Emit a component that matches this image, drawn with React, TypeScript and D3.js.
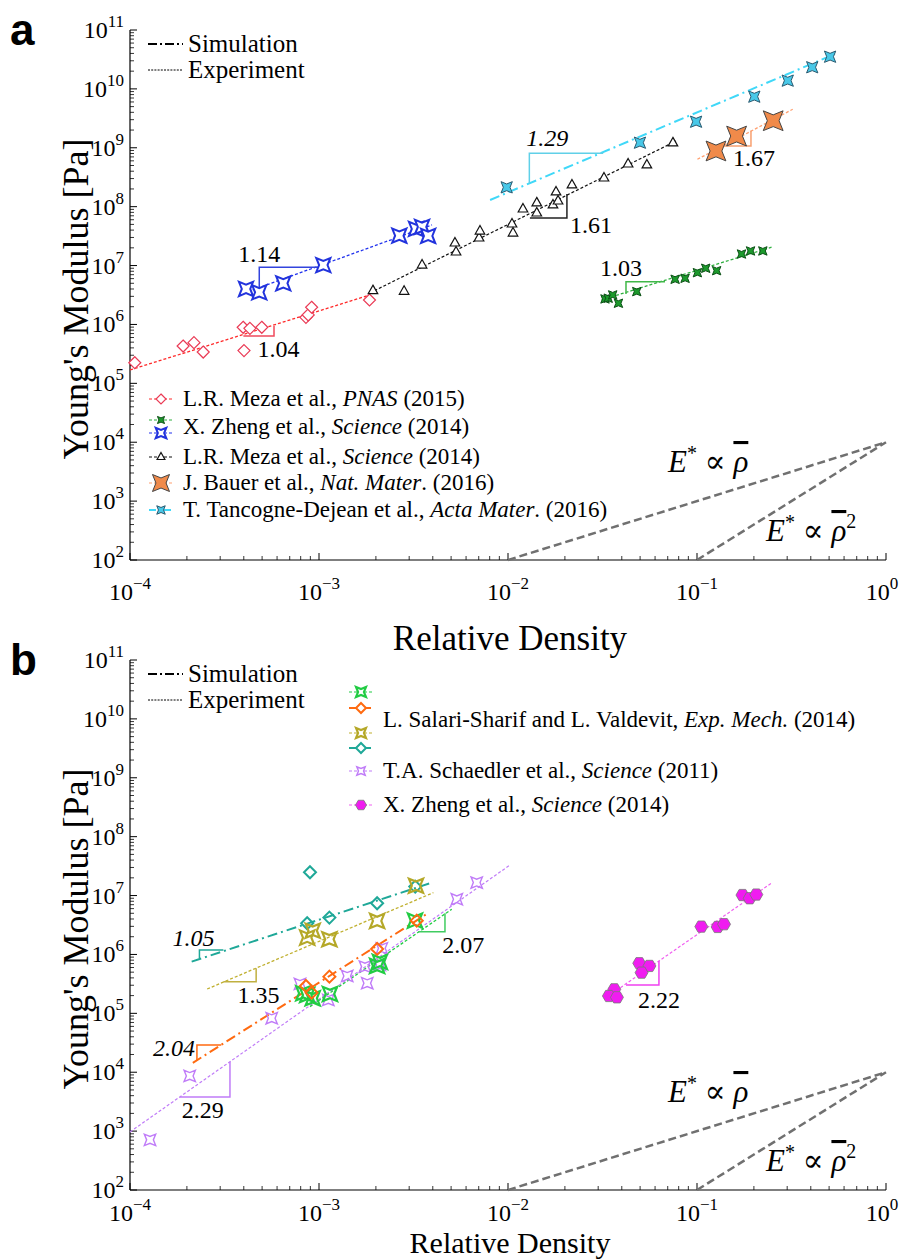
import React from 'react';
import * as d3 from 'd3';

type Pt = [number, number];

// ---------- Panel a data ----------
const mezaPNAS: Pt[] = [[1.06e-4,2.24e5],[1.91e-4,4.3e5],[2.18e-4,4.9e5],[2.44e-4,3.4e5],[3.97e-4,8.95e5],[4.31e-4,8.6e5],[4.98e-4,8.95e5],[4.01e-4,3.6e5],[8.53e-4,1.32e6],[8.77e-4,1.45e6],[9.14e-4,1.96e6],[1.85e-3,2.6e6]];
const mezaPNASFit: Pt[] = [[1e-4,1.69e5],[1.79e-3,3.05e6]];
const zhengGreen: Pt[] = [[3.26e-2,2.71e6],[3.39e-2,2.79e6],[3.58e-2,3.17e6],[3.84e-2,2.29e6],[4.8e-2,3.61e6],[7.66e-2,5.85e6],[8.65e-2,6.08e6],[1.005e-1,7.57e6],[1.112e-1,9.0e6],[1.27e-1,8.19e6],[1.72e-1,1.57e7],[1.92e-1,1.77e7],[2.23e-1,1.77e7]];
const zhengGreenFit: Pt[] = [[3.13e-2,2.61e6],[2.48e-1,2.05e7]];
const zhengBlue: Pt[] = [[4.11e-4,4.0e6],[4.83e-4,3.52e6],[6.47e-4,5.0e6],[1.054e-3,1.02e7],[2.66e-3,3.22e7],[3.26e-3,4.18e7],[3.51e-3,4.52e7],[3.78e-3,3.18e7]];
const zhengBlueFit: Pt[] = [[4.21e-4,3.6e6],[3.96e-3,4.89e7]];
const mezaSci: Pt[] = [[1.93e-3,3.75e6],[2.82e-3,3.66e6],[3.51e-3,1.02e7],[5.24e-3,2.42e7],[5.31e-3,1.7e7],[7.03e-3,2.94e7],[7.11e-3,3.86e7],[1.05e-2,5.08e7],[1.063e-2,3.57e7],[1.2e-2,9.14e7],[1.42e-2,1.16e8],[1.42e-2,7.82e7],[1.73e-2,1.07e8],[1.795e-2,1.78e8],[1.84e-2,1.25e8],[2.18e-2,2.34e8],[3.22e-2,3.07e8],[4.32e-2,5.31e8],[5.43e-2,5.11e8],[7.46e-2,1.21e9]];
const mezaSciFit: Pt[] = [[1.86e-3,3.43e6],[7.74e-2,1.3e9]];
const bauer: Pt[] = [[0.126,8.83e8],[0.162,1.58e9],[0.253,2.88e9]];
const bauerFit: Pt[] = [[0.1005,6.38e8],[0.321,4.51e9]];
const tancogne: Pt[] = [[9.84e-3,2.13e8],[4.99e-2,1.22e9],[9.89e-2,2.77e9],[0.201,7.38e9],[0.302,1.38e10],[0.407,2.33e10],[0.506,3.52e10]];
const tancogneFit: Pt[] = [[8.04e-3,1.3e8],[0.537,3.91e10]];

const tri104: Pt[] = [[3.98e-4,6.38e5],[5.78e-4,6.38e5],[5.78e-4,9.44e5]];
const tri114: Pt[] = [[4.83e-4,3.56e6],[4.83e-4,9.35e6],[1.054e-3,9.35e6]];
const tri161: Pt[] = [[1.306e-2,6.43e7],[2.05e-2,6.43e7],[2.05e-2,1.64e8]];
const tri103: Pt[] = [[4.21e-2,3.3e6],[4.21e-2,5.33e6],[6.77e-2,5.33e6]];
const tri167: Pt[] = [[0.1373,1.07e9],[0.193,1.07e9],[0.193,1.95e9]];
const tri129: Pt[] = [[1.297e-2,2.49e8],[1.297e-2,8.07e8],[3.19e-2,8.07e8]];

// ---------- Panel b data ----------
const salariTeal: Pt[] = [[8.96e-4,2.49e7],[8.66e-4,3.39e6],[1.135e-3,4.22e6],[2.03e-3,7.4e6],[3.23e-3,1.42e7]];
const salariTealFit: Pt[] = [[2.12e-4,7.55e5],[4.0e-3,1.68e7]];
const salariOlive: Pt[] = [[8.66e-4,1.93e6],[9.26e-4,2.53e6],[1.135e-3,1.81e6],[2.03e-3,3.71e6],[3.26e-3,1.47e7]];
const salariOliveFit: Pt[] = [[2.56e-4,2.59e5],[4.03e-3,1.12e7]];
const salariOrange: Pt[] = [[8.53e-4,2.92e5],[9.14e-4,2.24e5],[1.135e-3,4.2e5],[2.03e-3,1.24e6],[3.29e-3,3.75e6]];
const salariOrangeFit: Pt[] = [[2.15e-4,1.44e4],[3.72e-3,4.87e6]];
const salariGreen: Pt[] = [[8.26e-4,2.19e5],[8.66e-4,2.05e5],[9.26e-4,1.8e5],[1.143e-3,2.13e5],[2.03e-3,6.38e5],[2.1e-3,7.46e5],[3.22e-3,3.75e6]];
const salariGreenFit: Pt[] = [[8.96e-4,1.3e5],[5.04e-3,5.85e6]];
const schaedler: Pt[] = [[1.276e-4,710],[2.07e-4,8650],[5.62e-4,8.26e4],[7.93e-4,3.16e5],[1.12e-3,1.69e5],[1.41e-3,4.32e5],[1.75e-3,6.21e5],[1.8e-3,3.25e5],[2.1e-3,6.64e5],[2.15e-3,1.27e6],[5.36e-3,8.65e6],[6.83e-3,1.66e7]];
const schaedlerFit: Pt[] = [[1e-4,968],[1.026e-2,3.31e7]];
const zhengB: Pt[] = [[3.65e-2,2.56e5],[3.42e-2,1.97e5],[3.77e-2,1.87e5],[4.95e-2,7.09e5],[5.6e-2,6.38e5],[5.09e-2,4.91e5],[0.1054,2.97e6],[0.1286,2.93e6],[0.139,3.26e6],[0.174,1.02e7],[0.19,9.0e6],[0.206,1.04e7]];
const zhengBFit: Pt[] = [[3.22e-2,1.75e5],[0.25,1.66e7]];

const tri105: Pt[] = [[2.33e-4,8.61e5],[2.33e-4,1.19e6],[3.12e-4,1.19e6]];
const tri135: Pt[] = [[3.12e-4,3.45e5],[4.65e-4,3.45e5],[4.65e-4,5.83e5]];
const tri204: Pt[] = [[2.26e-4,1.58e4],[2.26e-4,2.9e4],[3.04e-4,2.9e4]];
const tri207: Pt[] = [[3.35e-3,2.44e6],[4.64e-3,2.44e6],[4.64e-3,5.01e6]];
const tri229: Pt[] = [[1.835e-4,3810],[3.38e-4,3810],[3.38e-4,1.51e4]];
const tri222: Pt[] = [[4.21e-2,3.03e5],[6.29e-2,3.03e5],[6.29e-2,7.76e5]];

// reference scaling lines
const refLinear: Pt[] = [[1e-2,1e2],[1,1e4]];
const refQuad: Pt[] = [[1e-1,1e2],[1,1e4]];

const xTickExps = [-4,-3,-2,-1,0];
const yTickExps = [2,3,4,5,6,7,8,9,10,11];

// ---------- markers ----------
const star = (r: number, inner = 0.42) => {
  const p: string[] = [];
  for (let i = 0; i < 8; i++) {
    const a = Math.PI / 4 + i * Math.PI / 4;
    const rr = i % 2 === 0 ? r : r * inner;
    p.push(`${(rr * Math.cos(a)).toFixed(2)},${(rr * Math.sin(a)).toFixed(2)}`);
  }
  return 'M' + p.join('L') + 'Z';
};
const diamond = (r: number) => `M0,${-r}L${r},0L0,${r}L${-r},0Z`;
const triangle = (r: number) => `M0,${-r}L${r * 0.87},${r * 0.55}L${-r * 0.87},${r * 0.55}Z`;
const hexagon = (r: number) => {
  const p: string[] = [];
  for (let i = 0; i < 6; i++) { const a = i * Math.PI / 3; p.push(`${(r * Math.cos(a)).toFixed(2)},${(r * Math.sin(a)).toFixed(2)}`); }
  return 'M' + p.join('L') + 'Z';
};

const EXP = '3,2';
const SIM = '10,4,2,4';
const FONT = '"Liberation Serif", "DejaVu Serif", serif';

interface Series { data: Pt[]; fit: Pt[]; shape: (r: number) => string; r: number; fill: string; stroke: string; sw: number; line: string; lw: number; dash: string; }
interface Tri { pts: Pt[]; label: string; italic?: boolean; color: string; dx: number; dy: number; }

const seriesA: Series[] = [
  { data: mezaPNAS, fit: mezaPNASFit, shape: diamond, r: 6, fill: 'white', stroke: '#ea3a55', sw: 1.2, line: '#ff2a2a', lw: 1.3, dash: EXP },
  { data: zhengGreen, fit: zhengGreenFit, shape: star, r: 6, fill: '#1c9a2c', stroke: '#0c5016', sw: 1, line: '#30b040', lw: 1.3, dash: EXP },
  { data: zhengBlue, fit: zhengBlueFit, shape: star, r: 10, fill: 'white', stroke: '#2233dd', sw: 2, line: '#2233ee', lw: 1.3, dash: EXP },
  { data: mezaSci, fit: mezaSciFit, shape: triangle, r: 5.5, fill: 'white', stroke: '#111', sw: 1.2, line: '#111', lw: 1.2, dash: EXP },
  { data: bauer, fit: bauerFit, shape: star, r: 14, fill: '#f08a4a', stroke: '#444', sw: 1, line: '#ffa070', lw: 1.3, dash: EXP },
  { data: tancogne, fit: tancogneFit, shape: star, r: 8, fill: '#48c8e8', stroke: '#2a5a70', sw: 1, line: '#40d8f8', lw: 2, dash: SIM },
];
const trisA: Tri[] = [
  { pts: tri104, label: '1.04', color: '#f04a5c', dx: 14, dy: 21 },
  { pts: tri114, label: '1.14', color: '#3344dd', dx: -21, dy: -30 },
  { pts: tri161, label: '1.61', color: '#222', dx: 40, dy: 15 },
  { pts: tri103, label: '1.03', color: '#40b848', dx: -26, dy: -18 },
  { pts: tri167, label: '1.67', color: '#f8a070', dx: 10, dy: 20 },
  { pts: tri129, label: '1.29', italic: true, color: '#60d0e8', dx: -3, dy: -37 },
];

const seriesB: Series[] = [
  { data: salariTeal, fit: salariTealFit, shape: diamond, r: 6, fill: 'none', stroke: '#1fa898', sw: 2, line: '#1fa898', lw: 2, dash: SIM },
  { data: salariOlive, fit: salariOliveFit, shape: star, r: 10, fill: 'none', stroke: '#b5a828', sw: 2.2, line: '#c0b030', lw: 1.3, dash: EXP },
  { data: schaedler, fit: schaedlerFit, shape: star, r: 8, fill: 'none', stroke: '#c07cf8', sw: 1.4, line: '#c07cf8', lw: 1.2, dash: EXP },
  { data: salariGreen, fit: salariGreenFit, shape: star, r: 10, fill: 'none', stroke: '#22cc44', sw: 2.2, line: '#22cc44', lw: 1.3, dash: EXP },
  { data: salariOrange, fit: salariOrangeFit, shape: diamond, r: 6, fill: 'none', stroke: '#ff6a10', sw: 2, line: '#ff6a10', lw: 2, dash: SIM },
  { data: zhengB, fit: zhengBFit, shape: hexagon, r: 6.5, fill: '#f01cf0', stroke: '#777', sw: 0.8, line: '#f060f0', lw: 1.2, dash: EXP },
];
const trisB: Tri[] = [
  { pts: tri105, label: '1.05', italic: true, color: '#1fa898', dx: -27, dy: -12 },
  { pts: tri135, label: '1.35', color: '#c0b040', dx: 14, dy: 21 },
  { pts: tri204, label: '2.04', italic: true, color: '#ff6a10', dx: -44, dy: -5 },
  { pts: tri207, label: '2.07', color: '#40cc60', dx: 24, dy: 21 },
  { pts: tri229, label: '2.29', color: '#c07cf8', dx: 2, dy: 21 },
  { pts: tri222, label: '2.22', color: '#f040f0', dx: 12, dy: 23 },
];

type TextPart = string | { i: string };
interface LegendRow { y: number; text: TextPart[]; marks: { dy: number; s: Series; r: number }[] }

const legendA: LegendRow[] = [
  { y: 399, text: ['L.R. Meza et al., ', { i: 'PNAS' }, ' (2015)'], marks: [{ dy: 0, s: seriesA[0], r: 5 }] },
  { y: 427, text: ['X. Zheng et al., ', { i: 'Science' }, ' (2014)'], marks: [{ dy: -7, s: seriesA[1], r: 5 }, { dy: 6, s: seriesA[2], r: 7.5 }] },
  { y: 457, text: ['L.R. Meza et al., ', { i: 'Science' }, ' (2014)'], marks: [{ dy: 0, s: seriesA[3], r: 4.5 }] },
  { y: 483, text: ['J. Bauer et al., ', { i: 'Nat. Mater' }, '. (2016)'], marks: [{ dy: 0, s: seriesA[4], r: 12 }] },
  { y: 510, text: ['T. Tancogne-Dejean et al., ', { i: 'Acta Mater' }, '. (2016)'], marks: [{ dy: 0, s: seriesA[5], r: 6 }] },
];
const legendB: LegendRow[] = [
  { y: 720, text: ['L. Salari-Sharif and L. Valdevit, ', { i: 'Exp. Mech.' }, ' (2014)'], marks: [
    { dy: -28, s: seriesB[3], r: 7 }, { dy: -12, s: seriesB[4], r: 5 }, { dy: 13, s: seriesB[1], r: 7 }, { dy: 28, s: seriesB[0], r: 5 }] },
  { y: 771, text: ['T.A. Schaedler et al., ', { i: 'Science' }, ' (2011)'], marks: [{ dy: 0, s: seriesB[2], r: 6 }] },
  { y: 805, text: ['X. Zheng et al., ', { i: 'Science' }, ' (2014)'], marks: [{ dy: 0, s: seriesB[5], r: 5.5 }] },
];

const X0 = 130, X1 = 886;

interface PanelProps { top: number; bottom: number; series: Series[]; tris: Tri[]; legend: LegendRow[]; legendX: number; letter: string; titleY: number; titleSize: number; tickDy: number; }

const Panel: React.FC<PanelProps> = ({ top, bottom, series, tris, legend, legendX, letter, titleY, titleSize, tickDy }) => {
  const x = d3.scaleLog().domain([1e-4, 1]).range([X0, X1]);
  const y = d3.scaleLog().domain([1e2, 1e11]).range([bottom, top]);
  const line = d3.line<Pt>().x(d => x(d[0])).y(d => y(d[1]));
  const minorX: number[] = [];
  xTickExps.slice(0, -1).forEach(e => { for (let k = 2; k < 10; k++) minorX.push(k * Math.pow(10, e)); });
  const minorY: number[] = [];
  yTickExps.slice(0, -1).forEach(e => { for (let k = 2; k < 10; k++) minorY.push(k * Math.pow(10, e)); });
  const off = top - 30;
  const renderText = (parts: TextPart[]) => parts.map((p, i) => typeof p === 'string'
    ? <tspan key={i}>{p}</tspan> : <tspan key={i} fontStyle="italic">{p.i}</tspan>);
  return (
    <g fontFamily={FONT}>
      <text x={10} y={top + 15} fontFamily='"Liberation Sans", Arial, sans-serif' fontWeight="bold" fontSize={44}>{letter}</text>
      {/* axes */}
      <line x1={X0} x2={X0} y1={top} y2={bottom} stroke="#000" strokeWidth={1.2} />
      <line x1={X0} x2={X1} y1={bottom} y2={bottom} stroke="#000" strokeWidth={1.2} />
      {yTickExps.map(e => <line key={'ym' + e} x1={X0} x2={X0 + 7} y1={y(Math.pow(10, e))} y2={y(Math.pow(10, e))} stroke="#000" strokeWidth={1} />)}
      {minorY.map((v, i) => <line key={'yn' + i} x1={X0} x2={X0 + 4} y1={y(v)} y2={y(v)} stroke="#000" strokeWidth={0.8} />)}
      {xTickExps.map(e => <line key={'xm' + e} x1={x(Math.pow(10, e))} x2={x(Math.pow(10, e))} y1={bottom} y2={bottom - 7} stroke="#000" strokeWidth={1} />)}
      {minorX.map((v, i) => <line key={'xn' + i} x1={x(v)} x2={x(v)} y1={bottom} y2={bottom - 4} stroke="#000" strokeWidth={0.8} />)}
      {yTickExps.map(e => (
        <text key={'yl' + e} x={124} y={y(Math.pow(10, e)) + 8} textAnchor="end" fontSize={24}>
          <tspan>10</tspan><tspan dy={-11} fontSize={17}>{String(e)}</tspan>
        </text>))}
      {xTickExps.map(e => (
        <text key={'xl' + e} x={x(Math.pow(10, e)) - (e === 0 ? 4 : 0)} y={bottom + tickDy} textAnchor="middle" fontSize={24}>
          <tspan>10</tspan><tspan dy={-11} fontSize={17}>{e < 0 ? '\u2212' + Math.abs(e) : String(e)}</tspan>
        </text>))}
      <text x={(X0 + X1) / 2 + 2} y={titleY} textAnchor="middle" fontSize={titleSize}>Relative Density</text>
      <text transform={`translate(88,${(top + bottom) / 2 + 4}) rotate(-90)`} textAnchor="middle" fontSize={36}>Young's Modulus [Pa]</text>

      {/* sim / exp legend */}
      <line x1={148} x2={183} y1={44 + off} y2={44 + off} stroke="#000" strokeWidth={1.8} strokeDasharray="9,3,2,3" />
      <text x={188} y={52 + off} fontSize={25}>Simulation</text>
      <line x1={148} x2={183} y1={70 + off} y2={70 + off} stroke="#000" strokeWidth={1} strokeDasharray="2,1.2" />
      <text x={188} y={78 + off} fontSize={25}>Experiment</text>

      {/* reference lines */}
      <path d={line(refLinear) || ''} stroke="#707070" strokeWidth={2.5} strokeDasharray="8,4" fill="none" />
      <path d={line(refQuad) || ''} stroke="#707070" strokeWidth={2.5} strokeDasharray="8,4" fill="none" />
      <text x={668} y={472 + off} fontSize={31}>
        <tspan fontStyle="italic">E</tspan><tspan dy={-12} fontSize={20}>*</tspan><tspan dy={12}>{' \u221D '}</tspan><tspan fontStyle="italic" style={{ textDecoration: 'overline' }}>{'\u03C1'}</tspan>
      </text>
      <text x={766} y={541 + off} fontSize={31}>
        <tspan fontStyle="italic">E</tspan><tspan dy={-12} fontSize={20}>*</tspan><tspan dy={12}>{' \u221D '}</tspan><tspan fontStyle="italic" style={{ textDecoration: 'overline' }}>{'\u03C1'}</tspan><tspan dy={-13} fontSize={20}>2</tspan>
      </text>

      {/* fit lines */}
      {series.map((s, i) => <path key={'f' + i} d={line(s.fit) || ''} stroke={s.line} strokeWidth={s.lw} strokeDasharray={s.dash} fill="none" />)}
      {/* slope triangles */}
      {tris.map((t, i) => {
        const p0 = t.pts[0];
        return (
          <g key={'t' + i}>
            <path d={line(t.pts) || ''} stroke={t.color} strokeWidth={1.5} fill="none" />
            <text x={x(p0[0]) + t.dx} y={y(p0[1]) + t.dy} fontSize={24} fontStyle={t.italic ? 'italic' : 'normal'}>{t.label}</text>
          </g>);
      })}
      {/* markers */}
      {series.map((s, i) => (
        <g key={'m' + i}>
          {s.data.map((d, j) => <path key={j} d={s.shape(s.r)} transform={`translate(${x(d[0])},${y(d[1])})`} fill={s.fill} stroke={s.stroke} strokeWidth={s.sw} />)}
        </g>))}

      {/* legend */}
      {legend.map((row, i) => (
        <g key={'l' + i}>
          {row.marks.map((m, j) => (
            <g key={j}>
              <line x1={legendX - 12} x2={legendX + 12} y1={row.y + m.dy} y2={row.y + m.dy} stroke={m.s.line} strokeWidth={m.s.dash === SIM ? 2 : 1.2} strokeDasharray={m.s.dash === SIM ? '7,3,2,3' : '3,2'} />
              <path d={m.s.shape(m.r)} transform={`translate(${legendX},${row.y + m.dy})`} fill={m.s.fill === 'none' ? 'white' : m.s.fill} stroke={m.s.stroke} strokeWidth={m.s.sw} />
            </g>))}
          <text x={legendX + 22} y={row.y + 7} fontSize={23}>{renderText(row.text)}</text>
        </g>))}
    </g>
  );
};

export default function App() {
  return (
    <svg width={905} height={1260} style={{ position: 'absolute', left: 0, top: 0, background: 'white' }}>
      <rect width={905} height={1260} fill="white" />
      <Panel top={30} bottom={560} series={seriesA} tris={trisA} legend={legendA} legendX={161} letter="a" titleY={650} titleSize={35} tickDy={40} />
      <Panel top={660} bottom={1190} series={seriesB} tris={trisB} legend={legendB} legendX={361} letter="b" titleY={1253} titleSize={30} tickDy={31} />
    </svg>
  );
}
